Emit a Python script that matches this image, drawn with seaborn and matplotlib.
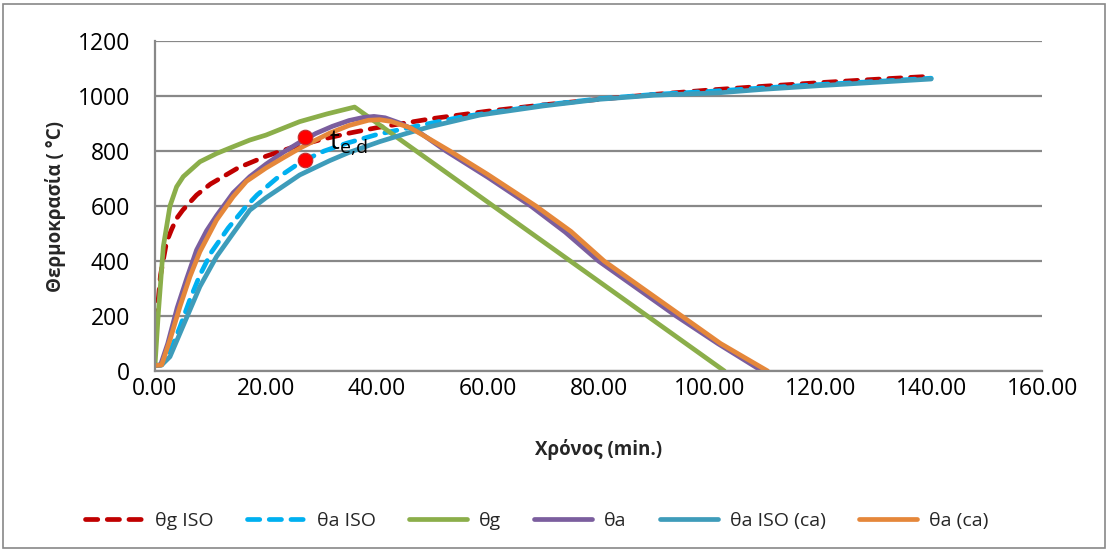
import matplotlib
matplotlib.use("Agg")
import matplotlib.pyplot as plt
import seaborn as sns
import pandas as pd
from matplotlib.patches import Rectangle
from matplotlib.ticker import FuncFormatter

# ---------------- data ----------------
t_g_iso = [0.2, 1, 2.1, 3, 3.9, 5, 7.5, 10, 15, 20, 25, 30, 35, 40, 50, 60, 70, 80, 90, 100, 110, 120, 130, 140]
T_g_iso = [175, 349, 470, 515, 555, 585, 640, 680, 739, 781, 815, 842, 865, 885, 918, 945, 968, 988, 1006, 1022, 1036, 1049, 1061, 1072]

t_a_iso = [0, 1.2, 2.7, 4.5, 6.3, 8.1, 10.2, 13.2, 16.2, 18.4, 21.9, 25.5, 27, 30.5, 34.5, 40, 46.5, 55.5, 70, 80, 90, 100, 110, 120, 130, 140]
T_a_iso = [20, 22, 70, 160, 260, 349, 433, 520, 593, 640, 700, 749, 767, 800, 828, 860, 888, 925, 967, 990, 1006, 1017, 1030, 1042, 1053, 1065]

t_g = [0, 0.6, 1.5, 2.7, 3.9, 5.1, 8.1, 11.1, 14, 17.1, 20, 26.1, 31, 36, 102.7]
T_g = [20, 210, 452, 600, 670, 707, 761, 791, 815, 840, 858, 907, 935, 960, 0]

t_a = [0, 1.0, 2.3, 4.0, 5.7, 7.5, 9.3, 11.1, 14.1, 17.1, 20, 23.1, 26.1, 29, 32, 35, 37.5, 39.5, 41.5, 44, 47.7, 52.5, 60, 67.8, 74, 80, 87, 94, 101.5, 109.5]
T_a = [20, 22, 100, 230, 335, 440, 510, 565, 648, 707, 752, 795, 832, 864, 890, 911, 922, 926, 921, 903, 868, 800, 705, 600, 505, 400, 300, 200, 100, 0]

t_a_iso_ca = [0, 1.2, 2.7, 4.5, 6.3, 8.1, 11.1, 14.1, 17.1, 20, 23.1, 26.1, 31.5, 35, 40.5, 45, 49.5, 58.6, 70, 80, 90, 101.8, 110, 120, 130, 140]
T_a_iso_ca = [20, 22, 52, 137, 222, 307, 416, 501, 585, 630, 672, 713, 765, 795, 834, 862, 888, 931, 964, 988, 1003, 1012, 1025, 1038, 1050, 1062]

t_a_ca = [0, 1.2, 2.7, 4.5, 6.3, 8.1, 11.1, 14.1, 16.5, 20, 23.1, 26.1, 29, 31.5, 35, 38.5, 40.5, 42.5, 46, 49, 53.2, 60, 68.7, 75, 81, 88, 95, 102, 110.5]
T_a_ca = [20, 22, 113, 234, 343, 434, 549, 634, 690, 738, 775, 810, 840, 865, 893, 912, 914, 908, 885, 850, 800, 715, 600, 508, 400, 300, 200, 100, 0]

marker_t = [27, 27]
marker_T = [850, 767]

series_names = ["θg ISO", "θa ISO", "θg", "θa", "θa ISO (ca)", "θa (ca)"]
series_t = [t_g_iso, t_a_iso, t_g, t_a, t_a_iso_ca, t_a_ca]
series_T = [T_g_iso, T_a_iso, T_g, T_a, T_a_iso_ca, T_a_ca]

colors = ["#C00000", "#00B0F0", "#8BAE4A", "#7B5E9E", "#3E9CBA", "#E5873A"]
dashed = [True, True, False, False, False, False]

x_ticks = [0, 20, 40, 60, 80, 100, 120, 140, 160]
y_ticks = [0, 200, 400, 600, 800, 1000, 1200]

# ---------------- style ----------------
sns.set_theme(style="white")
plt.rcParams["font.family"] = ["Open Sans", "DejaVu Sans"]
plt.rcParams["mathtext.fontset"] = "custom"
plt.rcParams["mathtext.rm"] = "Open Sans"

fig = plt.figure(figsize=(11.11, 5.55), dpi=100)
ax = fig.add_axes([0.1395, 0.3315, 0.7985, 0.5945])

for name, tt, TT, c, d in zip(series_names, series_t, series_T, colors, dashed):
    df = pd.DataFrame({"t": tt, "T": TT})
    sns.lineplot(data=df, x="t", y="T", ax=ax, color=c, lw=3.4, sort=False,
                 estimator=None, label=name, solid_capstyle="round",
                 dash_capstyle="round", solid_joinstyle="round")
    if d:
        ax.lines[-1].set_dashes((2.6, 2.0))

sns.scatterplot(x=marker_t, y=marker_T, ax=ax, color="#FF0000", s=110,
                edgecolor="#C03030", linewidth=0.8, zorder=10, legend=False)

ax.text(31.4, 808, r"$\mathrm{t_{e{,}d}}$", fontsize=20, color="black", zorder=11)

ax.set_xlim(0, 160)
ax.set_ylim(0, 1200)
ax.set_xticks(x_ticks)
ax.set_yticks(y_ticks)
ax.xaxis.set_major_formatter(FuncFormatter(lambda v, p: f"{v:.2f}"))
ax.yaxis.set_major_formatter(FuncFormatter(lambda v, p: f"{int(v)}"))
ax.tick_params(axis="both", length=0, labelsize=16.5, colors="black")
ax.tick_params(axis="y", pad=18)
ax.tick_params(axis="x", pad=4)
ax.grid(axis="y", color="#888888", lw=1.6)
ax.set_axisbelow(True)
for s in ["top", "right"]:
    ax.spines[s].set_visible(False)
for s in ["left", "bottom"]:
    ax.spines[s].set_color("#888888")
    ax.spines[s].set_linewidth(1.6)

ax.set_xlabel("Χρόνος (min.)", fontsize=13.5, fontweight="bold", labelpad=28)
ax.set_ylabel("Θερμοκρασία ( °C)", fontsize=13.5, fontweight="bold", labelpad=8)

handles, labels = ax.get_legend_handles_labels()
ax.get_legend().remove()
fig.legend(handles, labels, loc="center", bbox_to_anchor=(0.483, 0.062), ncol=6,
           frameon=False, fontsize=14, handlelength=3.0, columnspacing=1.7,
           handletextpad=0.6)

fig.add_artist(Rectangle((0.003, 0.012), 0.992, 0.98, transform=fig.transFigure,
                         fill=False, edgecolor="#888888", lw=1.2))

fig.savefig("out.png", dpi=100)
